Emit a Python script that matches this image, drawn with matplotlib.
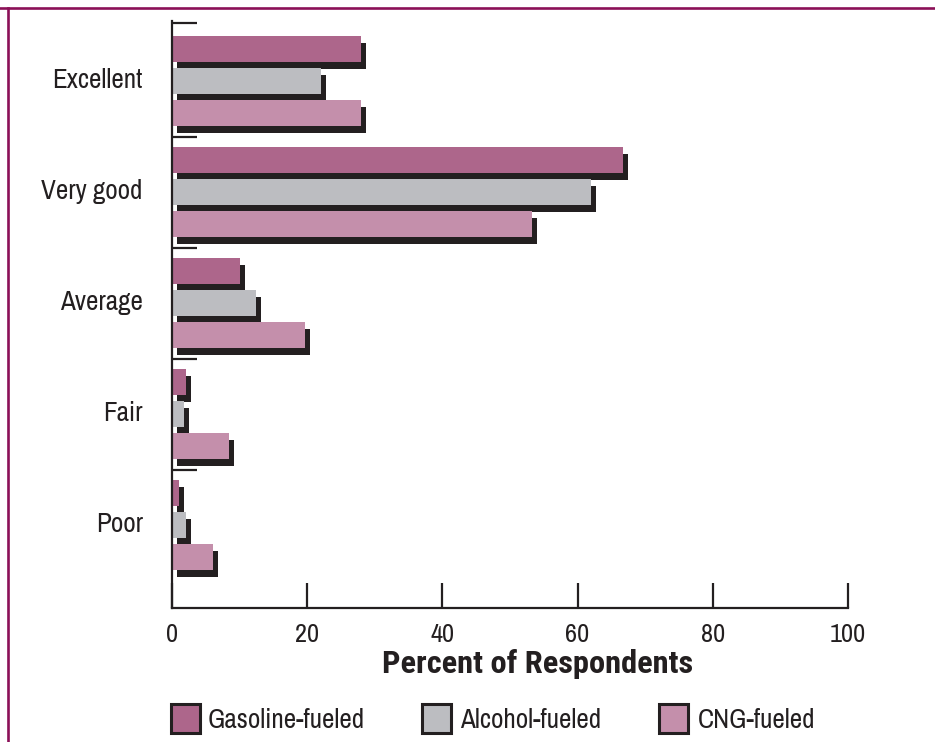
import matplotlib
matplotlib.use("Agg")
import matplotlib.pyplot as plt
import matplotlib.transforms as mtransforms
from matplotlib.patches import Rectangle
from matplotlib.lines import Line2D

# Survey data: percent of respondents per rating
categories = ["Excellent", "Very good", "Average", "Fair", "Poor"]
series_names = ["Gasoline-fueled", "Alcohol-fueled", "CNG-fueled"]
gasoline = [28, 66.7, 10, 2, 1]
alcohol = [22, 62, 12.4, 1.8, 2]
cng = [28, 53.3, 19.7, 8.5, 6.1]
x_ticks = [0, 20, 40, 60, 80, 100]

colors = ["#ad668b", "#bcbdc1", "#c48fab"]
shadow = "#231f20"
ink = "#231f20"
frame = "#8b1057"

FONT = ["Archivo Narrow", "DejaVu Sans"]
BOLD_FONT = ["Roboto Condensed", "DejaVu Sans"]
plt.rcParams["font.family"] = FONT

W, H, DPI = 935, 742, 100
fig = plt.figure(figsize=(W / DPI, H / DPI), dpi=DPI)

# axes placement in pixels (left, top, right, bottom)
L, T, R, B = 172, 21, 848, 608
ax = fig.add_axes([L / W, 1 - B / H, (R - L) / W, (B - T) / H])

pitch = 111.0   # pixels per rating group
c0 = 81.0       # pixel row of the first group centre
y_top = (T - c0) / pitch
y_bot = (B - c0) / pitch
ax.set_ylim(y_bot, y_top)
ax.set_xlim(0, 100)

bar_h = 26 / pitch
step = 32 / pitch
offsets = [-step, 0, step]
data = [gasoline, alcohol, cng]

# drop shadows shifted right/down in device pixels
shadow_tr = mtransforms.offset_copy(ax.transData, fig=fig, x=5, y=-7, units="dots")
ys = list(range(len(categories)))
for vals, off in zip(data, offsets):
    ax.barh([y + off for y in ys], vals, height=bar_h, left=0,
            color=shadow, linewidth=0, transform=shadow_tr, zorder=2)
for vals, off, col in zip(data, offsets, colors):
    ax.barh([y + off for y in ys], vals, height=bar_h, left=0,
            color=col, linewidth=0, zorder=3)

# spines
for s in ["top", "right"]:
    ax.spines[s].set_visible(False)
for s in ["left", "bottom"]:
    ax.spines[s].set_color(ink)
    ax.spines[s].set_linewidth(1.6)
    ax.spines[s].set_zorder(5)

# x axis ticks pointing inward
ax.set_xticks(x_ticks)
ax.set_xticklabels([str(v) for v in x_ticks], fontsize=19, color=ink, family=FONT)
ax.tick_params(axis="x", direction="in", length=18, width=1.6, color=ink, pad=11)

# y axis: group separators as inward ticks, labels at group centres
label_lift = 3 / pitch
ax.set_yticks([y - label_lift for y in ys])
ax.set_yticklabels(categories, fontsize=19.5, color=ink, family=FONT)
ax.tick_params(axis="y", which="major", length=0, pad=21)
for lab in ax.get_yticklabels():
    lab.set_verticalalignment("center_baseline")
ax.set_yticks([y_top + 0.02, 0.5, 1.5, 2.5, 3.5], minor=True)
ax.tick_params(axis="y", which="minor", direction="in", length=18, width=1.6, color=ink)

# axis title
fig.text(538 / W, 1 - 673 / H, "Percent of Respondents", ha="center", va="baseline",
         fontsize=23.3, fontweight="bold", color=ink, family=BOLD_FONT)

# legend row
legend_items = [(171, 208), (422, 460), (659, 698)]
for (px, tx), name, col in zip(legend_items, series_names, colors):
    fig.patches.append(Rectangle((px / W, 1 - 733 / H), 29 / W, 29 / H,
                                 transform=fig.transFigure, facecolor=col,
                                 edgecolor=ink, linewidth=2.2))
    fig.text(tx / W, 1 - 718 / H, name, ha="left", va="center_baseline",
             fontsize=19.5, color=ink, family=FONT)

# frame lines along the top and left edge
fig.add_artist(Line2D([0, 1], [1 - 8 / H, 1 - 8 / H], transform=fig.transFigure,
                      color=frame, linewidth=1.9))
fig.add_artist(Line2D([7.5 / W, 7.5 / W], [0, 1 - 8 / H], transform=fig.transFigure,
                      color=frame, linewidth=1.9))

fig.savefig("out.png", dpi=DPI)
